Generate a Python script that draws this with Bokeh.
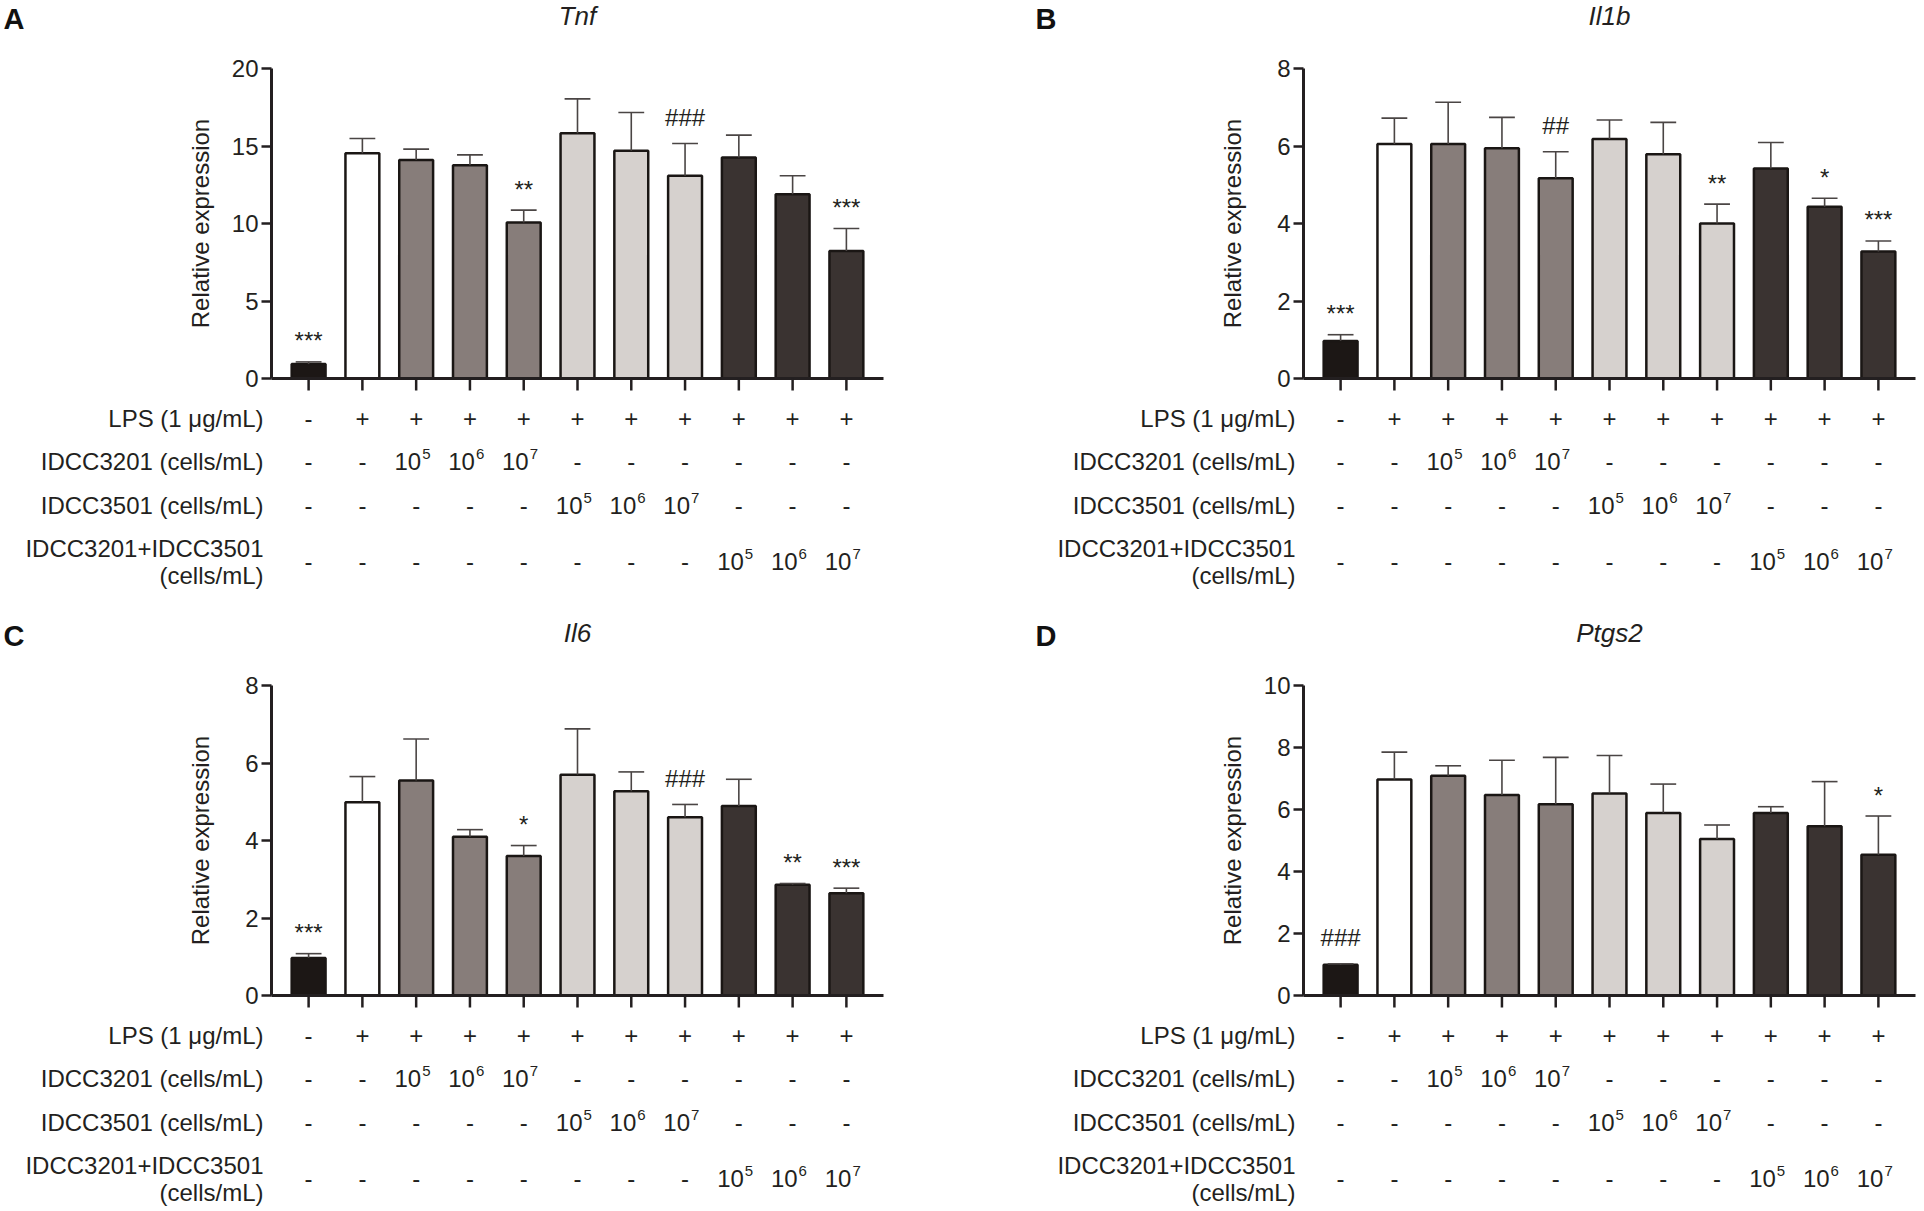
import math

from bokeh.plotting import figure
from bokeh.models import ColumnDataSource, FixedTicker, Range1d
from bokeh.layouts import column, row
from bokeh.embed import file_html
from bokeh.resources import INLINE
from bokeh.core.properties import value

# ---------------------------------------------------------------- data
groups = [0, 1, 2, 3, 4, 5, 6, 7, 8, 9, 10]

bar_colors = ["#1c1715", "#ffffff",
              "#877d7a", "#877d7a", "#877d7a",
              "#d6d1ce", "#d6d1ce", "#d6d1ce",
              "#3a3331", "#3a3331", "#3a3331"]

tnf_mean = [0.93, 14.54, 14.09, 13.76, 10.06, 15.83, 14.69, 13.08, 14.26, 11.89, 8.22]
tnf_sem = [0.14, 0.94, 0.71, 0.67, 0.80, 2.21, 2.47, 2.08, 1.44, 1.19, 1.46]
tnf_marks = ["***", "", "", "", "**", "", "", "###", "", "", "***"]
tnf_ticks = [0, 5, 10, 15, 20]

il1b_mean = [0.97, 6.05, 6.05, 5.94, 5.17, 6.18, 5.79, 4.00, 5.42, 4.43, 3.28]
il1b_sem = [0.16, 0.67, 1.08, 0.80, 0.68, 0.49, 0.82, 0.50, 0.67, 0.22, 0.27]
il1b_marks = ["***", "", "", "", "##", "", "", "**", "", "*", "***"]
il1b_ticks = [0, 2, 4, 6, 8]

il6_mean = [0.97, 4.99, 5.55, 4.10, 3.60, 5.70, 5.27, 4.60, 4.89, 2.86, 2.64]
il6_sem = [0.11, 0.66, 1.07, 0.18, 0.27, 1.18, 0.50, 0.33, 0.69, 0.03, 0.13]
il6_marks = ["***", "", "", "", "*", "", "", "###", "", "**", "***"]
il6_ticks = [0, 2, 4, 6, 8]

ptgs2_mean = [0.99, 6.97, 7.09, 6.47, 6.17, 6.52, 5.89, 5.05, 5.89, 5.46, 4.54]
ptgs2_sem = [0.03, 0.88, 0.32, 1.12, 1.51, 1.22, 0.93, 0.45, 0.20, 1.44, 1.25]
ptgs2_marks = ["###", "", "", "", "", "", "", "", "", "", "*"]
ptgs2_ticks = [0, 2, 4, 6, 8, 10]

# treatment table under each chart ("10^5" = 10 to the 5th)
row_lps = ["-", "+", "+", "+", "+", "+", "+", "+", "+", "+", "+"]
row_3201 = ["-", "-", "10^5", "10^6", "10^7", "-", "-", "-", "-", "-", "-"]
row_3501 = ["-", "-", "-", "-", "-", "10^5", "10^6", "10^7", "-", "-", "-"]
row_mix = ["-", "-", "-", "-", "-", "-", "-", "-", "10^5", "10^6", "10^7"]

row_labels = ["LPS (1 \u03bcg/mL)", "IDCC3201 (cells/mL)", "IDCC3501 (cells/mL)",
              "IDCC3201+IDCC3501", "(cells/mL)"]

# ---------------------------------------------------------------- style / layout
FONT = "Liberation Sans"
INK = "#231f20"
X0, X1 = -0.69, 10.69          # extent of the category axis (bar index units)
AXIS_W = 612                    # px covered by X0..X1
AXIS_LEFT = 271                 # px from panel's left edge to the value axis
ZERO_Y = 378                    # px from panel's top edge to value 0
ZERO_TO_TOP = 310               # px between value 0 and axis top
BAR_W = 0.63
CAP = 0.24


def txt(p, xs, ys, texts, size, align="center", baseline="alphabetic",
        style="normal", angle=0.0, color=INK):
    p.text(x=xs, y=ys, text=texts, angle=angle, text_align=align,
           text_baseline=baseline, text_font=value(FONT), text_font_style=style,
           text_font_size=size, text_color=color)


def build_panel(letter, gene, mean, sem, marks, ticks, width, height):
    ymax = ticks[-1]
    uy = ymax / ZERO_TO_TOP              # data units per px (vertical)
    ux = (X1 - X0) / AXIS_W              # data units per px (horizontal)

    x_start = X0 - AXIS_LEFT * ux
    x_end = x_start + width * ux
    y_end = ZERO_Y * uy
    y_start = -(height - ZERO_Y) * uy

    p = figure(width=width, height=height, title=None,
               x_range=Range1d(x_start, x_end), y_range=Range1d(y_start, y_end),
               x_axis_location=None, y_axis_location="left",
               output_backend="svg", toolbar_location=None,
               min_border=0, min_border_left=0, min_border_right=0,
               min_border_top=0, min_border_bottom=0)
    p.grid.visible = False
    p.outline_line_color = None
    p.background_fill_color = "white"
    p.border_fill_color = "white"

    ax = p.yaxis[0]
    ax.fixed_location = X0
    ax.ticker = FixedTicker(ticks=ticks)
    ax.bounds = (0, ymax)
    ax.axis_line_width = 3
    ax.axis_line_color = INK
    ax.major_tick_line_width = 2.5
    ax.major_tick_line_color = INK
    ax.major_tick_out = 10
    ax.major_tick_in = 0
    ax.minor_tick_line_color = None
    ax.major_label_text_font = FONT
    ax.major_label_text_font_size = "24px"
    ax.major_label_text_color = INK
    ax.major_label_standoff = 3

    top = [m + s for m, s in zip(mean, sem)]
    src = ColumnDataSource(dict(x=groups, mean=mean, top=top, color=bar_colors,
                                cl=[g - CAP for g in groups], cr=[g + CAP for g in groups]))

    # bars
    p.vbar(x="x", top="mean", width=BAR_W, bottom=0, source=src,
           fill_color="color", line_color="#1a1614", line_width=2.5)
    # upper error bars with caps
    p.segment(x0="x", y0="mean", x1="x", y1="top", source=src,
              line_color="#4a4544", line_width=1.6)
    p.segment(x0="cl", y0="top", x1="cr", y1="top", source=src,
              line_color="#4a4544", line_width=1.6)

    # category axis line and ticks
    p.segment(x0=[X0], y0=[0], x1=[X1], y1=[0], line_color=INK, line_width=3)
    p.segment(x0=groups, y0=[0] * len(groups), x1=groups, y1=[-12 * uy] * len(groups),
              line_color=INK, line_width=2.5)

    # significance marks
    mx, my, mt = [], [], []
    for g, t, m in zip(groups, top, marks):
        if m:
            lift = 21 if m.startswith("*") else 26
            mx.append(g)
            my.append(t + lift * uy)
            mt.append(m)
    txt(p, mx, my, mt, "24px")

    # treatment table
    table_rows = [(row_lps, 40), (row_3201, 83), (row_3501, 127), (row_mix, 183)]
    for cells, base_px in table_rows:
        yb = -base_px * uy
        px_, pt_, bx, bt, ex, et = [], [], [], [], [], []
        for g, c in zip(groups, cells):
            if "^" in c:
                b, e = c.split("^")
                bx.append(g + 5 * ux)
                bt.append(b)
                ex.append(g + 6 * ux)
                et.append(e)
            else:
                px_.append(g)
                pt_.append(c)
        txt(p, px_, [yb] * len(px_), pt_, "24px")
        if bx:
            txt(p, bx, [yb] * len(bx), bt, "24px", align="right")
            txt(p, ex, [yb + 8 * uy] * len(ex), et, "15px", align="left")

    label_base = [40, 83, 127, 170, 197]
    txt(p, [X0 - 8 * ux] * len(row_labels), [-b * uy for b in label_base],
        row_labels, "24px", align="right")

    # value-axis title, gene name and panel letter
    txt(p, [X0 - 71 * ux], [ymax / 2], ["Relative expression"], "24px",
        baseline="middle", angle=math.pi / 2)
    txt(p, [(X0 + X1) / 2], [ymax + 53 * uy], [gene], "26px", style="italic")
    txt(p, [x_start + 3 * ux], [ymax + 50 * uy], [letter], "29px", align="left",
        style="bold", color="#111111")
    return p


pa = build_panel("A", "Tnf", tnf_mean, tnf_sem, tnf_marks, tnf_ticks, 1032, 617)
pb = build_panel("B", "Il1b", il1b_mean, il1b_sem, il1b_marks, il1b_ticks, 892, 617)
pc = build_panel("C", "Il6", il6_mean, il6_sem, il6_marks, il6_ticks, 1032, 594)
pd = build_panel("D", "Ptgs2", ptgs2_mean, ptgs2_sem, ptgs2_marks, ptgs2_ticks, 892, 594)

layout = column(row(pa, pb), row(pc, pd))
open("out.html", "w").write(file_html(layout, INLINE))
